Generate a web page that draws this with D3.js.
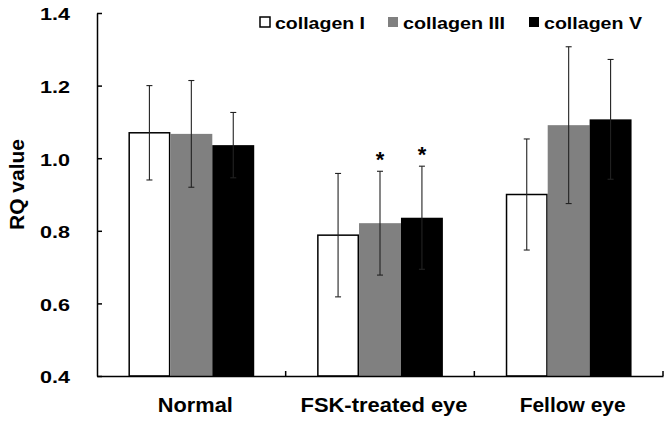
<!DOCTYPE html>
<html><head><meta charset="utf-8">
<script src="https://cdn.jsdelivr.net/npm/d3@7"></script>
<style>body{margin:0;background:#fff;} svg{display:block;font-family:Arial,"Liberation Sans",sans-serif;}</style>
</head><body>
<svg id="c" width="672" height="424"></svg>
<script>
const categories = ["Normal", "FSK-treated eye", "Fellow eye"];
const seriesNames = ["collagen I", "collagen III", "collagen V"];
const collagenI = [1.070, 0.788, 0.900];
const collagenIII = [1.067, 0.821, 1.091];
const collagenV = [1.036, 0.836, 1.107];
const errI = [0.130, 0.170, 0.153];
const errIII = [0.147, 0.143, 0.216];
const errV = [0.090, 0.142, 0.165];
const significant = [[false,false,false],[false,true,true],[false,false,false]];
const yTicks = [0.4, 0.6, 0.8, 1.0, 1.2, 1.4];
const colors = ["#ffffff", "#808080", "#000000"];

const values = [collagenI, collagenIII, collagenV];
const errs = [errI, errIII, errV];

const svg = d3.select("#c");
const mLeft = 97, mRight = 663, mTop = 13, mBottom = 376;
const FONT = "Arial, 'Liberation Sans', sans-serif";

const y = d3.scaleLinear().domain([0.4, 1.4]).range([mBottom, mTop]);
const x0 = d3.scaleBand().domain(categories).range([mLeft, mRight]).padding(0);
const x1 = d3.scaleBand().domain(seriesNames).range([0, x0.bandwidth()]).paddingInner(0).paddingOuter(0.75);

const data = [];
categories.forEach((c, i) => seriesNames.forEach((s, j) => {
  data.push({c, s, j, v: values[j][i], e: errs[j][i], sig: significant[i][j]});
}));

const g = svg.append("g");
g.selectAll("rect.bar").data(data).enter().append("rect")
  .attr("class","bar")
  .attr("x", d => x0(d.c) + x1(d.s) + (d.j===0 ? 0.75 : 0))
  .attr("width", d => x1.bandwidth() - (d.j===0 ? 1.5 : 0))
  .attr("y", d => y(d.v))
  .attr("height", d => y(0.4) - y(d.v))
  .attr("fill", d => colors[d.j])
  .attr("stroke", d => d.j===0 ? "#000" : "none")
  .attr("stroke-width", 1.5);

const cx = d => x0(d.c) + x1(d.s) + x1.bandwidth()/2;
const eb = g.selectAll("g.eb").data(data).enter().append("g").attr("class","eb")
  .attr("stroke", "#222").attr("stroke-width", 1.1);
eb.append("line").attr("x1", cx).attr("x2", cx).attr("y1", d => y(d.v + d.e)).attr("y2", d => y(d.v - d.e));
eb.append("line").attr("x1", d => cx(d)-3).attr("x2", d => cx(d)+3).attr("y1", d => y(d.v + d.e)).attr("y2", d => y(d.v + d.e));
eb.append("line").attr("x1", d => cx(d)-3).attr("x2", d => cx(d)+3).attr("y1", d => y(d.v - d.e)).attr("y2", d => y(d.v - d.e));

g.selectAll("text.sig").data(data.filter(d => d.sig)).enter().append("text")
  .attr("class","sig")
  .attr("x", cx).attr("y", d => y(d.v + d.e) - 4)
  .attr("text-anchor","middle").attr("font-size", 22).attr("font-weight","bold").text("*");

// Y axis
const yAxis = d3.axisLeft(y).tickValues(yTicks).tickFormat(d3.format(".1f")).tickSizeInner(-5).tickSizeOuter(0).tickPadding(27);
const ya = svg.append("g").attr("transform", `translate(${mLeft},0)`).call(yAxis);
ya.select(".domain").attr("stroke","#000").attr("stroke-width",1.5);
ya.selectAll(".tick line").attr("stroke","#000").attr("stroke-width",1.5);
ya.selectAll(".tick text").attr("font-size",17).attr("font-weight","bold").attr("fill","#000")
  .attr("font-family", FONT).attr("dy","0.4em")
  .attr("textLength", 30).attr("lengthAdjust","spacingAndGlyphs");

// X axis
const xAxis = d3.axisBottom(x0).tickSize(0).tickPadding(0);
const xa = svg.append("g").attr("transform", `translate(0,${mBottom})`).call(xAxis);
xa.select(".domain").attr("stroke","#000").attr("stroke-width",1.5);
const labelW = {"Normal": 75, "FSK-treated eye": 167, "Fellow eye": 106};
xa.selectAll(".tick text").attr("font-size",20).attr("font-weight","bold").attr("fill","#000")
  .attr("font-family", FONT).attr("x", 4).attr("y", 36).attr("dy", 0)
  .attr("textLength", d => labelW[d]).attr("lengthAdjust","spacingAndGlyphs");
// boundary ticks
const bounds = categories.map(c => x0(c) + x0.bandwidth());
svg.append("g").selectAll("line").data(bounds).enter().append("line")
  .attr("x1", d => d).attr("x2", d => d).attr("y1", mBottom).attr("y2", mBottom - 5)
  .attr("stroke","#000").attr("stroke-width",1.5);

// Y label
svg.append("text").attr("transform", `translate(24,184.5) rotate(-90)`)
  .attr("text-anchor","middle").attr("font-size",21).attr("font-weight","bold")
  .attr("textLength", 91).attr("lengthAdjust","spacingAndGlyphs").text("RQ value");

// Legend
const legX = [260, 388, 529];
const legW = [90, 102, 98];
const leg = svg.append("g").selectAll("g").data(seriesNames).enter().append("g")
  .attr("transform", (d,i) => `translate(${legX[i]},17)`);
leg.append("rect").attr("width", 10).attr("height", 10)
  .attr("fill", (d,i) => colors[i]).attr("stroke", (d,i) => i===0 ? "#000" : "none").attr("stroke-width",1.5);
leg.append("text").attr("x", 15).attr("y", 12).attr("font-size",17).attr("font-weight","bold")
  .attr("textLength", (d,i) => legW[i]).attr("lengthAdjust","spacingAndGlyphs").text(d => d);
</script>
</body></html>
